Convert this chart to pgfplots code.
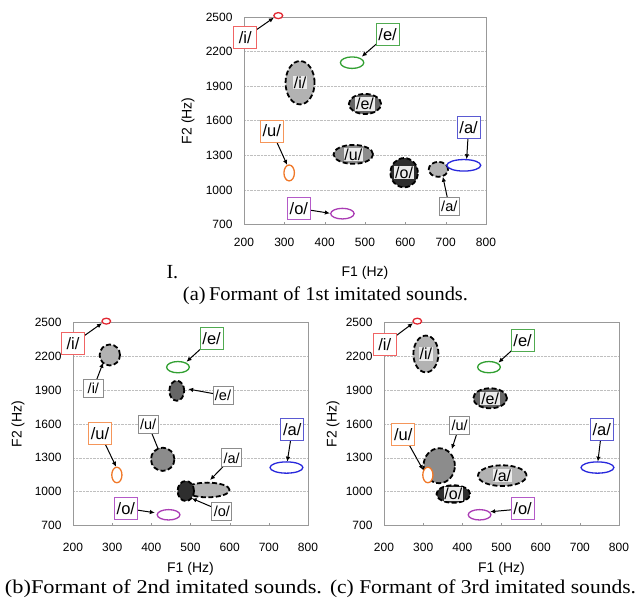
\documentclass[border=0pt]{standalone}
\usepackage{pgfplots}
\pgfplotsset{compat=1.18}
\usepackage{pgfplotstable}
\usepackage{graphicx}
\usepackage{fontspec}
\setmainfont{Liberation Serif}
\setsansfont{Liberation Sans}
\usetikzlibrary{arrows.meta}

\definecolor{redE}{RGB}{225,40,50}
\definecolor{redB}{RGB}{240,100,100}
\definecolor{greenE}{RGB}{50,160,50}
\definecolor{greenB}{RGB}{80,170,80}
\definecolor{orangeE}{RGB}{240,120,40}
\definecolor{orangeB}{RGB}{245,150,90}
\definecolor{purpleE}{RGB}{170,60,180}
\definecolor{purpleB}{RGB}{180,90,200}
\definecolor{blueE}{RGB}{40,40,220}
\definecolor{blueB}{RGB}{90,90,210}

% ellipse marker: radii given in data units, scaled by \xs / \ys (pt per Hz)
\pgfdeclareplotmark{ell}{%
  \pgfpathellipse{\pgfpointorigin}{\pgfpoint{\ellrx*\xs*1pt}{0pt}}{\pgfpoint{0pt}{\ellry*\ys*1pt}}%
  \pgfusepathqfillstroke}

\tikzset{
  cbox/.style={draw=#1, line width=1pt, fill=white, minimum width=23pt, minimum height=22pt,
    inner sep=0pt, font=\sffamily\fontsize{16.5}{16.5}\selectfont},
  gbox/.style={draw=black!45, line width=0.9pt, fill=white, minimum width=20pt, minimum height=18pt,
    inner sep=0pt, font=\sffamily\fontsize{14.5}{14.5}\selectfont},
  inlbl/.style={fill=black!8, inner sep=0.8pt, font=\sffamily\fontsize{16}{16}\selectfont},
  arr/.style={-{Latex[length=5pt,width=4.5pt]}, line width=1pt, black},
}

\pgfplotsset{
  myaxis/.style={
    scale only axis, clip=false, anchor=south west,
    xmin=200, xmax=800, ymin=700, ymax=2500,
    xtick={200,300,...,800}, ytick={700,1000,...,2500},
    ymajorgrids, grid style={densely dotted, black!25, line width=0.6pt},
    axis line style={black!40, line width=0.8pt},
    tick pos=left, ytick style={draw=none}, xtick style={black!40},
    major tick length=3pt, tick align=inside,
    tick label style={font=\sffamily\fontsize{12}{12}\selectfont},
    yticklabel style={xshift=-8pt},
    /pgf/number format/assume math mode=true, /pgf/number format/1000 sep={},
    xlabel={F1 (Hz)}, ylabel={F2 (Hz)},
    label style={font=\sffamily\fontsize{14}{14}\selectfont, anchor=center},
  },
  ellplot/.style={
    only marks, scatter, scatter src=explicit symbolic, mark=ell,
    visualization depends on={\thisrow{rx} \as \ellrx},
    visualization depends on={\thisrow{ry} \as \ellry},
    scatter/classes={
      r={draw=redE,fill=white,solid,line width=1.3pt},
      g={draw=greenE,fill=white,solid,line width=1.3pt},
      o={draw=orangeE,fill=white,solid,line width=1.3pt},
      p={draw=purpleE,fill=white,solid,line width=1.3pt},
      b={draw=blueE,fill=white,solid,line width=1.3pt},
      L={draw=black,fill=black!30,dash pattern=on 5pt off 2.5pt,line width=1.8pt},
      M={draw=black,fill=black!45,dash pattern=on 5pt off 2.5pt,line width=1.8pt},
      D={draw=black,fill=black!60,dash pattern=on 5pt off 2.5pt,line width=1.8pt},
      V={draw=black,fill=black!82,dash pattern=on 5pt off 2.5pt,line width=1.8pt}
    },
  },
  lblplot/.style={
    only marks, mark=*, mark size=0pt, mark options={draw=none, fill=none},
    point meta=explicit symbolic, nodes near coords,
    every node near coord/.style={inlbl, anchor=center, text=black},
  },
}

% reference vowel formants (same in all panels)
\pgfplotstableread{
x y rx ry c
285 2512 11 26 r
468 2104 29 50 g
312 1148 13 69 o
444 795 29 46 p
745 1214 42 50 b
}\refdata

% 1st imitated sounds
\pgfplotstableread{
x y rx ry c
339 1930 36 188 L
500 1746 40 87 D
471 1309 49 82 M
597 1150 34 127 V
682 1179 24 65 L
}\gA
\pgfplotstableread{
x y lab
339 1930 /i/
500 1746 /e/
471 1309 /u/
597 1150 /o/
}\lA

% 2nd imitated sounds
\pgfplotstableread{
x y rx ry c
294 2212 26 93 L
465 1895 19 89 D
429 1287 30 103 M
543 1015 57 65 L
488 1006 21 89 V
}\gB

% 3rd imitated sounds
\pgfplotstableread{
x y rx ry c
307 2221 32 163 L
471 1828 43 89 D
341 1230 40 155 M
377 979 43 78 V
502 1142 62 92 L
}\gC
\pgfplotstableread{
x y lab
307 2221 /i/
471 1828 /e/
377 979 /o/
502 1142 /a/
}\lC

\begin{document}
\begin{tikzpicture}
\useasboundingbox (0,0) rectangle (639pt,600pt);

% ---------------- (a) ----------------
\def\xs{0.40333}\def\ys{0.11533}
\begin{axis}[myaxis, at={(244pt,375.4pt)}, width=242pt, height=207.6pt,
  xticklabel style={yshift=-10pt},
  xlabel style={at={(axis description cs:0.5,-0.231)}},
  ylabel style={at={(axis description cs:-0.231,0.5)}}]
\draw[arr] (axis cs:203,2322) -- (axis cs:274,2494);
\draw[arr] (axis cs:556,2350) -- (axis cs:492,2156);
\draw[arr] (axis cs:269,1511) -- (axis cs:307,1217);
\draw[arr] (axis cs:336,841) -- (axis cs:413,798);
\draw[arr] (axis cs:757,1544) -- (axis cs:752,1266);
\draw[arr] (axis cs:709,855) -- (axis cs:693,1115);
\node[cbox=redB] at (axis cs:203,2322) {/i/};
\node[cbox=greenB] at (axis cs:556,2350) {/e/};
\node[cbox=orangeB] at (axis cs:269,1511) {/u/};
\node[cbox=purpleB] at (axis cs:336,841) {/o/};
\node[cbox=blueB] at (axis cs:757,1544) {/a/};
\node[gbox] at (axis cs:709,855) {/a/};
\addplot[ellplot] table[meta=c] {\gA};
\addplot[lblplot] table[meta=lab] {\lA};
\addplot[ellplot] table[meta=c] {\refdata};
\end{axis}

% ---------------- (b) ----------------
\def\xs{0.39167}\def\ys{0.11278}
\begin{axis}[myaxis, at={(73pt,74.5pt)}, width=235pt, height=203pt,
  xticklabel style={yshift=-14pt},
  xlabel style={at={(axis description cs:0.5,-0.212)}},
  ylabel style={at={(axis description cs:-0.234,0.5)}}]
\draw[arr] (axis cs:200,2312) -- (axis cs:274,2494);
\draw[arr] (axis cs:554,2355) -- (axis cs:490,2152);
\draw[arr] (axis cs:269,1518) -- (axis cs:310,1221);
\draw[arr] (axis cs:335,852) -- (axis cs:409,813);
\draw[arr] (axis cs:760,1554) -- (axis cs:747,1266);
\draw[arr] (axis cs:252,1917) -- (axis cs:277,2144);
\draw[arr] (axis cs:583,1854) -- (axis cs:494,1910);
\draw[arr] (axis cs:392,1596) -- (axis cs:422,1340);
\draw[arr] (axis cs:580,827) -- (axis cs:503,941);
\draw[arr] (axis cs:605,1300) -- (axis cs:550,1103);
\node[cbox=redB] at (axis cs:200,2312) {/i/};
\node[cbox=greenB] at (axis cs:554,2355) {/e/};
\node[cbox=orangeB] at (axis cs:269,1518) {/u/};
\node[cbox=purpleB] at (axis cs:335,852) {/o/};
\node[cbox=blueB] at (axis cs:760,1554) {/a/};
\node[gbox] at (axis cs:252,1917) {/i/};
\node[gbox] at (axis cs:583,1854) {/e/};
\node[gbox] at (axis cs:392,1596) {/u/};
\node[gbox] at (axis cs:580,827) {/o/};
\node[gbox] at (axis cs:605,1300) {/a/};
\addplot[ellplot] table[meta=c] {\gB};
\addplot[ellplot] table[meta=c] {\refdata};
\end{axis}

% ---------------- (c) ----------------
\def\xs{0.39167}\def\ys{0.11278}
\begin{axis}[myaxis, at={(384pt,74.5pt)}, width=235pt, height=203pt,
  xticklabel style={yshift=-14pt},
  xlabel style={at={(axis description cs:0.5,-0.212)}},
  ylabel style={at={(axis description cs:-0.217,0.5)}}]
\draw[arr] (axis cs:202,2308) -- (axis cs:274,2494);
\draw[arr] (axis cs:554,2340) -- (axis cs:492,2144);
\draw[arr] (axis cs:249,1510) -- (axis cs:300,1192);
\draw[arr] (axis cs:554,848) -- (axis cs:471,822);
\draw[arr] (axis cs:756,1551) -- (axis cs:746,1266);
\draw[arr] (axis cs:393,1591) -- (axis cs:373,1376);
\node[cbox=redB] at (axis cs:202,2308) {/i/};
\node[cbox=greenB] at (axis cs:554,2340) {/e/};
\node[cbox=orangeB] at (axis cs:249,1510) {/u/};
\node[cbox=purpleB] at (axis cs:554,848) {/o/};
\node[cbox=blueB] at (axis cs:756,1551) {/a/};
\node[gbox] at (axis cs:393,1591) {/u/};
\addplot[ellplot] table[meta=c] {\gC};
\addplot[lblplot] table[meta=lab] {\lC};
\addplot[ellplot] table[meta=c] {\refdata};
\end{axis}

% captions
\node[anchor=base west, font=\fontsize{20}{20}\selectfont] at (163pt,321pt) {I.};
\node[anchor=base, font=\fontsize{19.5}{20}\selectfont] at (325.5pt,299pt)
  {\resizebox{285pt}{\height}{(a)\,Formant of 1st imitated sounds.}};
\node[anchor=base, font=\fontsize{19.5}{20}\selectfont] at (163.5pt,7pt)
  {\resizebox{317pt}{\height}{(b)Formant of 2nd imitated sounds.}};
\node[anchor=base, font=\fontsize{19.5}{20}\selectfont] at (483pt,7pt)
  {\resizebox{306pt}{\height}{(c) Formant of 3rd imitated sounds.}};
\end{tikzpicture}
\end{document}
